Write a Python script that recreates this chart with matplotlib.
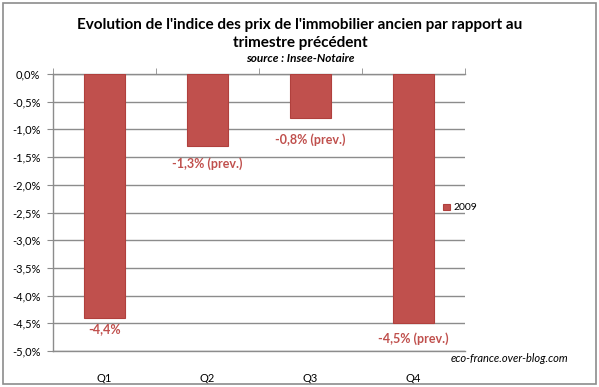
import matplotlib
matplotlib.use("Agg")
import matplotlib.pyplot as plt
from matplotlib.patches import Rectangle

plt.rcParams['font.family'] = ['Lato', 'DejaVu Sans']

categories = ["Q1", "Q2", "Q3", "Q4"]
values = [-4.4, -1.3, -0.8, -4.5]
labels = ["-4,4%", "-1,3% (prev.)", "-0,8% (prev.)", "-4,5% (prev.)"]
label_offsets_px = [11, 18, 21, 15]
yticks = [0, -0.5, -1.0, -1.5, -2.0, -2.5, -3.0, -3.5, -4.0, -4.5, -5.0]
ytick_labels = ["0,0%", "-0,5%", "-1,0%", "-1,5%", "-2,0%", "-2,5%", "-3,0%",
                "-3,5%", "-4,0%", "-4,5%", "-5,0%"]
series_name = "2009"

W, H = 599, 387
fig = plt.figure(figsize=(W / 100, H / 100), dpi=100)
fig.patch.set_facecolor("white")

ax = fig.add_axes([53 / W, 1 - 351 / H, (465 - 53) / W, (351 - 74) / H])
x = list(range(len(categories)))
bars = ax.bar(x, values, width=0.4, color="#C0504D", edgecolor="#B0403D",
              linewidth=0.8, zorder=3, label=series_name)

ax.set_xlim(-0.5, len(categories) - 0.5)
ax.set_ylim(-5, 0)
ax.set_yticks(yticks)
ax.set_yticklabels(ytick_labels, fontsize=8)
ax.grid(axis="y", color="#8C8C8C", linewidth=1, zorder=0)
ax.set_axisbelow(True)

ax.set_xticks(x)
ax.set_xticklabels(categories, fontsize=8)
ax.tick_params(axis="x", which="major", length=0, pad=16)
ax.set_xticks([-0.5, 0.5, 1.5, 2.5, 3.5], minor=True)
ax.tick_params(axis="x", which="minor", bottom=False, top=True, direction="out",
               length=4, color="#8C8C8C")
ax.tick_params(axis="y", direction="out", length=4, color="#8C8C8C", pad=5)

for s in ["right"]:
    ax.spines[s].set_visible(False)
for s in ["left", "top", "bottom"]:
    ax.spines[s].set_color("#8C8C8C")
    ax.spines[s].set_linewidth(1)

for xi, v, lab, off in zip(x, values, labels, label_offsets_px):
    ax.annotate(lab, (xi, v), xytext=(0, -off), textcoords="offset pixels",
                ha="center", va="center", color="#C0504D", fontsize=9,
                fontweight="bold")

fig.legend(handles=[bars], labels=[series_name], loc="center left",
           bbox_to_anchor=(434 / W, 1 - 208 / H), frameon=False,
           handlelength=0.6, handleheight=0.6, handletextpad=0.35, fontsize=7.5)

fig.text(300 / W, 1 - 25 / H, "Evolution de l'indice des prix de l'immobilier ancien par rapport au",
         ha="center", va="center", fontsize=11, fontweight="bold")
fig.text(300 / W, 1 - 43 / H, "trimestre précédent",
         ha="center", va="center", fontsize=11, fontweight="bold")
fig.text(300 / W, 1 - 59 / H, "source : Insee-Notaire",
         ha="center", va="center", fontsize=8.5, fontweight="bold", style="italic")
fig.text(568 / W, 1 - 359 / H, "eco-france.over-blog.com",
         ha="right", va="center", fontsize=8, style="italic")

fig.patches.append(Rectangle((3 / W, 3 / H), (W - 6) / W, (H - 6) / H,
                             transform=fig.transFigure, fill=False,
                             edgecolor="#8C8C8C", linewidth=1.2))

fig.savefig("out.png", dpi=100, facecolor="white")
